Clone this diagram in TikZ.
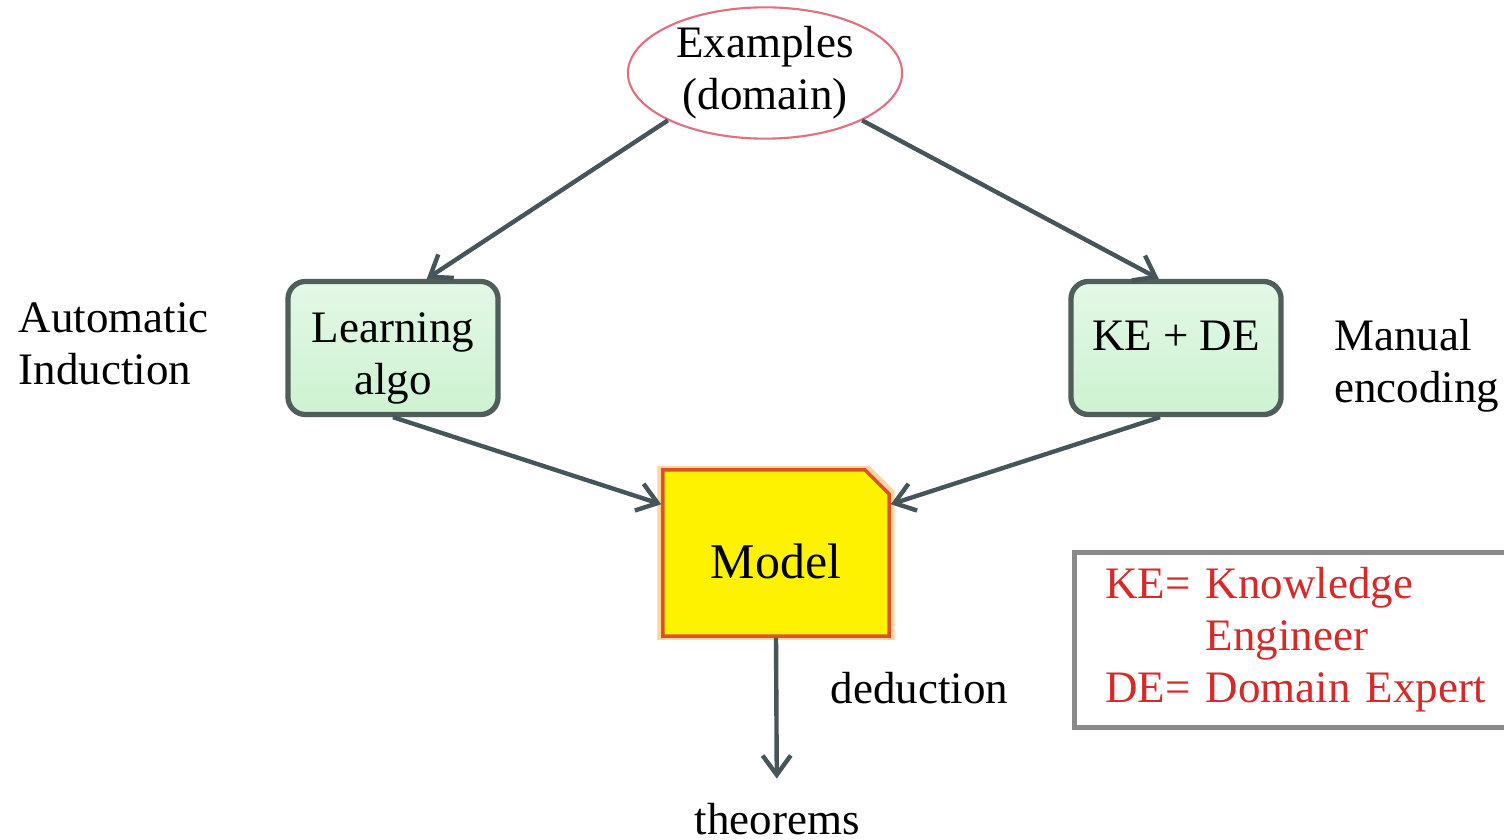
\documentclass[tikz,border=0pt]{standalone}
\usepackage{fontspec}
\setmainfont{Liberation Serif}
\usepackage{xcolor}
\usetikzlibrary{shapes.geometric, shapes.misc, arrows.meta, positioning, shadows}

\definecolor{arrowgray}{HTML}{45555A}
\definecolor{boxedge}{HTML}{4F5E58}
\definecolor{boxfill}{HTML}{CDF2D1}
\definecolor{modeledge}{HTML}{D9531E}
\definecolor{ovaledge}{HTML}{E07080}
\definecolor{legendred}{HTML}{D42A2A}
\definecolor{legendedge}{HTML}{8A8A8A}

\newcommand{\bodysize}{\fontsize{12.8pt}{14.8pt}\selectfont}
\newcommand{\modelsize}{\fontsize{14.2pt}{16pt}\selectfont}

\begin{document}
\begin{tikzpicture}[
  x=0.01cm, y=-0.01cm,
  oval/.style={ellipse, draw=ovaledge, line width=0.6pt, fill=white,
               minimum width=2.74cm, minimum height=1.23cm, inner sep=0pt,
               align=center, font=\bodysize},
  algobox/.style={rectangle, rounded corners=5pt, draw=boxedge, line width=1.5pt,
                  top color=boxfill!55, bottom color=boxfill,
                  minimum width=2.1cm, minimum height=1.33cm, align=center,
                  font=\bodysize,
                  drop shadow={shadow xshift=0.5pt, shadow yshift=-0.7pt, opacity=0.3}},
  modelbox/.style={chamfered rectangle, chamfered rectangle corners=north east,
                   chamfered rectangle xsep=0.12cm, chamfered rectangle ysep=0.12cm,
                   draw=modeledge, line width=1pt, fill=yellow,
                   minimum width=2.26cm, minimum height=1.66cm, font=\modelsize,
                   drop shadow={shadow xshift=0pt, shadow yshift=0pt,
                                shadow scale=1.05, fill=orange, opacity=0.35}},
  legend/.style={rectangle, draw=legendedge, line width=1.3pt, fill=white,
                 text=legendred, align=left, text width=3.86cm, inner xsep=0.31cm,
                 minimum height=1.75cm, font=\bodysize,
                 drop shadow={shadow xshift=0.4pt, shadow yshift=-0.6pt, opacity=0.2}},
  lbl/.style={inner sep=0pt, align=left, font=\bodysize},
  arr/.style={-{Straight Barb[length=5.5pt, width=8pt]}, line width=1.25pt, draw=arrowgray}
]
\useasboundingbox (0,0) rectangle (1504,840);
\clip (0,0) rectangle (1504,840);

% Source at the top
\node[oval] (examples) at (765,73) {Examples\\(domain)};

% Two ways to get a model
\node[algobox] (learn) at (393,348)
  {\raisebox{-0.1cm}[\height][\depth]{\begin{tabular}{@{}c@{}}Learning\\algo\end{tabular}}};
\node[algobox] (kede)  at (1176,348) {\raisebox{0.12cm}[\height][\depth]{KE + DE}};
\node[lbl, left=0.76cm of learn, yshift=0.04cm] (auto) {Automatic\\Induction};
\node[lbl, right=0.5cm of kede, yshift=-0.18cm] (manual) {Manual\\encoding};

% The model and what follows from it
\node[modelbox] (model) at (776,553) {\raisebox{-0.08cm}[\height][\depth]{Model}};
\node[lbl, anchor=west] (ded) at (830,688) {deduction};
\node[lbl] (thm) at (777,819) {theorems};

% Key for the abbreviations
\node[legend, anchor=north west] (key) at (1072,550)
  {KE= Knowledge\\\phantom{KE= }Engineer\\DE= Domain Expert};

% Arrows
\draw[arr] (examples.206) -- (learn.64);
\draw[arr] (examples.334) -- (kede.104);
\draw[arr] (learn.south)  -- (model.157);
\draw[arr] (kede.257)     -- (model.23);
\draw[arr, shorten >=6.8pt] (model.south) -- (thm);

\end{tikzpicture}
\end{document}
